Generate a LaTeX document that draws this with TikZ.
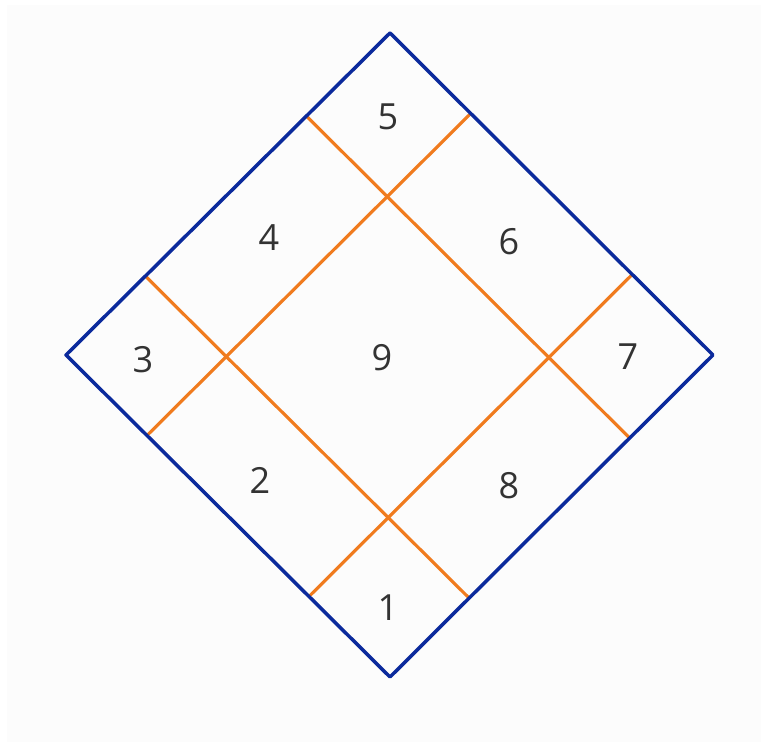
\documentclass[tikz,border=0pt]{standalone}
\usepackage{fontspec}
\setmainfont{Open Sans}
\usetikzlibrary{calc}

\definecolor{rimblue}{HTML}{0B2A9C}
\definecolor{gridorange}{HTML}{F07B1E}
\definecolor{digitgray}{HTML}{333333}
\definecolor{paper}{HTML}{FCFCFC}

\tikzset{
    rim/.style={rimblue, line width=2pt, line join=round},
    divider/.style={gridorange, line width=1.8pt},
    house/.style={digitgray, font=\fontsize{20.5}{24}\selectfont}
}

\begin{document}
\begin{tikzpicture}[x=0.02cm, y=-0.02cm]
    % Background
    \useasboundingbox (0,0) rectangle (761,742);
    \fill[paper] (7,5) rectangle (761,742);

    % Corners of the diamond
    \coordinate (T) at (390,33);
    \coordinate (R) at (713,355);
    \coordinate (B) at (390,677);
    \coordinate (L) at (66,355);

    % Inner lines
    \draw[divider] ($(T)!0.258!(L)$) -- ($(R)!0.258!(B)$);
    \draw[divider] ($(T)!0.755!(L)$) -- ($(R)!0.755!(B)$);
    \draw[divider] ($(T)!0.25!(R)$) -- ($(L)!0.25!(B)$);
    \draw[divider] ($(T)!0.75!(R)$) -- ($(L)!0.75!(B)$);

    % Outer diamond
    \draw[rim] (T) -- (R) -- (B) -- (L) -- cycle;

    % House numbers
    \node[house] (h5) at (388,117) {5};
    \node[house] (h4) at (269,238) {4};
    \node[house] (h6) at (509,242) {6};
    \node[house] (h3) at (143,360) {3};
    \node[house] (h9) at (382,358) {9};
    \node[house] (h7) at (628,357) {7};
    \node[house] (h2) at (260,480) {2};
    \node[house] (h8) at (509,486) {8};
    \node[house] (h1) at (388,608) {1};
\end{tikzpicture}
\end{document}
